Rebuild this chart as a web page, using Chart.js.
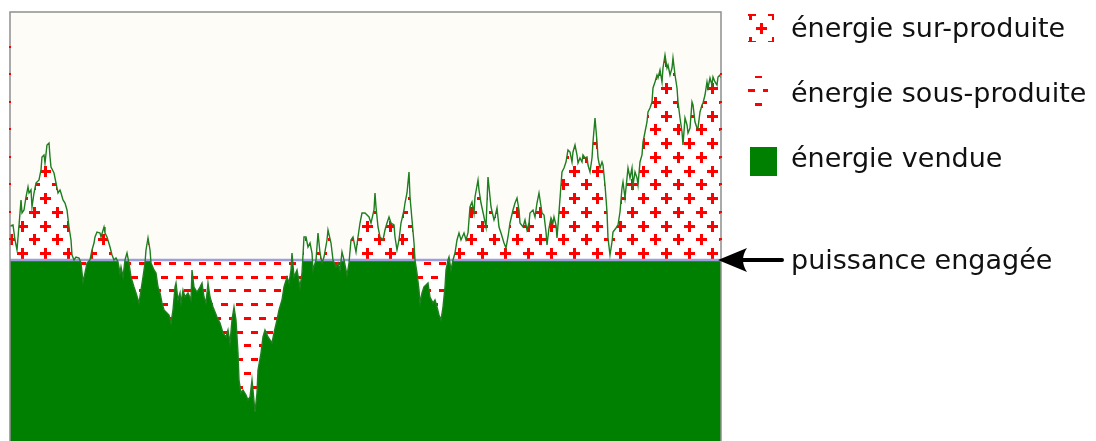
<!DOCTYPE html>
<html lang="fr">
<head>
<meta charset="utf-8">
<title>Énergie produite et puissance engagée</title>
<script src="https://cdn.jsdelivr.net/npm/chart.js@4.4.1/dist/chart.umd.min.js"></script>
<style>
  html, body { margin: 0; padding: 0; background: #ffffff; }
  #zone { position: absolute; left: 0; top: 0; width: 1096px; height: 441px; }
</style>
</head>
<body>
<div id="zone"><canvas id="graphe"></canvas></div>
<script>
// temps (minutes depuis le début de la fenêtre) et puissance produite
const minutes = [
  0,3,5,7,10,11,12,14,16,18,19,21,22,24,26,29,31,32,34,35,37,39,40,41,44,46,48,50,51,53,
  55,57,59,61,62,64,66,69,71,73,75,77,80,82,84,85,87,90,91,94,95,97,100,102,104,106,108,110,111,113,
  115,117,119,121,124,126,129,131,133,135,136,138,140,141,144,146,148,150,152,154,156,159,161,163,165,166,168,170,171,173,
  175,178,181,182,184,187,190,192,194,196,198,200,203,207,210,213,216,218,220,222,224,226,228,229,231,233,236,238,240,242,
  243,245,247,248,251,253,255,258,260,262,264,267,269,272,274,277,279,281,282,284,287,290,292,294,296,298,300,302,303,306,
  308,310,312,314,317,318,321,323,326,328,330,332,334,337,339,341,343,346,348,350,
  352,355,359,361,364,365,366,368,370,373,375,377,379,381,384,385,387,389,391,394,395,397,399,400,402,404,405,407,409,410,
  412,414,416,418,420,423,425,427,429,431,433,435,436,438,439,441,443,445,447,449,451,454,456,458,460,462,464,465,468,469,
  471,474,476,478,479,481,484,485,487,489,491,494,496,498,500,503,505,507,509,510,513,515,517,519,520,523,525,527,529,
  532,534,536,537,539,541,543,544,546,547,549,551,552,554,556,558,560,562,563,565,567,568,570,572,573,575,577,578,580,582,
  583,585,587,588,590,592,593,595,597,598,600,602,603,606,608,610,612,613,615,617,618,620,622,623,625,627,628,630,632,633,
  635,637,638,640,642,643,645,647,648,650,652,653,655,657,658,660,662,663,665,667,668,670,672,673,675,677,678,680,682,683,
  685,687,688,690,692,693,695,697,698,700,702,703,705,707,708,710,711
];
const production = [
  215,216,201,191,228,241,228,231,244,254,248,251,234,248,258,261,271,284,286,278,296,298,284,274,268,258,248,251,248,241,
  238,231,214,201,186,181,184,183,178,159,168,178,181,191,198,204,209,208,204,214,208,204,194,186,181,183,179,168,174,164,
  181,188,178,164,154,148,138,151,164,178,191,203,191,178,171,168,154,148,138,131,129,126,118,131,154,158,141,148,138,151,
  144,148,141,171,154,149,154,158,144,138,158,144,134,124,118,108,104,111,98,121,134,121,88,61,48,51,46,41,44,61,
  51,29,48,71,88,104,111,104,101,98,108,121,131,141,154,164,158,171,188,164,171,154,168,204,204,194,198,188,171,181,
  208,188,178,184,201,211,198,181,174,178,171,189,181,166,178,201,204,189,204,218,
  228,228,224,218,231,248,234,214,204,201,211,218,224,218,216,204,191,201,218,231,238,248,269,244,221,198,181,168,151,138,
  148,154,156,158,144,138,141,134,126,121,134,154,171,181,184,171,181,188,201,208,201,208,201,208,234,239,228,244,261,251,
  238,224,214,264,254,234,221,224,233,214,208,198,193,204,218,231,238,243,231,218,214,221,211,218,228,231,224,238,248,
  228,226,209,196,213,223,218,224,216,203,229,256,269,273,279,291,289,279,289,296,286,278,283,279,286,283,284,276,269,283,
  299,323,299,283,273,279,276,256,229,203,186,199,209,213,216,229,253,259,243,263,273,263,273,256,269,263,256,279,286,299,
  309,319,329,333,339,353,359,366,363,371,359,373,386,373,376,366,373,383,366,353,339,323,309,296,323,316,308,313,339,336,
  319,313,313,329,336,338,346,359,353,363,356,364,359,356,364,366,363
];
const puissanceEngagee = 181;
const echelleY = [0, 429];
const echelleX = [0, 711];
const legendes = ['énergie sur-produite', 'énergie sous-produite', 'énergie vendue', 'puissance engagée'];

const VERT = '#008000';
const ROUGE = '#ff0000';

// tuile de 4 rangées décalées en quinconce, translatée à (ox, oy)
function motif(w, dessin, ox, oy, fond = '#ffffff') {
  const c = document.createElement('canvas');
  c.width = w;
  c.height = 55;
  const g = c.getContext('2d');
  if (fond) {
    g.fillStyle = fond;
    g.fillRect(0, 0, c.width, c.height);
  }
  g.fillStyle = ROUGE;
  dessin(g);
  const p = g.createPattern(c, 'repeat');
  p.setTransform(new DOMMatrix([1, 0, 0, 1, ox, oy]));
  return p;
}

const rangees = [7, 21, 34, 48];
const croix = g => {
  rangees.forEach((y, i) => {
    const x = i % 2 ? 17 : 6;
    g.fillRect(x - 5, y - 1, 11, 3);
    g.fillRect(x - 1, y - 5, 3, 11);
  });
};
const bras = g => {
  rangees.forEach((y, i) => {
    const x = i % 2 ? 17 : 6;
    g.fillRect(x - 5, y - 1, 11, 2);
  });
};
const tirets = g => {
  rangees.forEach((y, i) => {
    const x = i % 2 ? 11 : 4;
    g.fillRect(x - 3, y - 1, 7, 3);
  });
};

const motifPlus = motif(23, croix, 5, 205);
const motifMoins = motif(15, tirets, 138, 256);
const motifBord = motif(23, bras, 5, 205, null);

const pts = minutes.map((t, i) => ({ x: t, y: production[i] }));
const ligneEngagee = minutes.map(t => ({ x: t, y: puissanceEngagee }));

// fond crème, cadre, légende et flèche
const habillage = {
  id: 'habillage',
  beforeDraw(chart) {
    const { ctx, chartArea: a } = chart;
    ctx.save();
    ctx.fillStyle = '#fdfcf7';
    ctx.fillRect(a.left, a.top, a.right - a.left, a.bottom - a.top);
    ctx.restore();
  },
  afterDraw(chart) {
    const { ctx, chartArea: a } = chart;
    const yE = chart.scales.y.getPixelForValue(puissanceEngagee);
    ctx.save();
    ctx.strokeStyle = '#8e8e8e';
    ctx.lineWidth = 1.5;
    ctx.beginPath();
    ctx.moveTo(a.left, a.bottom);
    ctx.lineTo(a.left, a.top);
    ctx.lineTo(a.right, a.top);
    ctx.lineTo(a.right, a.bottom);
    ctx.stroke();

    // le motif déborde un peu sur le cadre, au-dessus de la ligne engagée
    ctx.fillStyle = motifBord;
    ctx.fillRect(a.left - 1, a.top + 30, 2, yE - a.top - 34);
    ctx.fillRect(a.right - 1, a.top + 55, 2, yE - a.top - 59);

    // pictogrammes
    ctx.fillStyle = motif(23, croix, 744, -20);
    ctx.fillRect(748, 14, 26, 28);
    ctx.fillStyle = motif(15, tirets, 747, 83);
    ctx.fillRect(748, 76, 20, 32);
    ctx.fillStyle = VERT;
    ctx.fillRect(750, 147, 27, 29);

    ctx.fillStyle = '#111111';
    ctx.font = '27px "DejaVu Sans"';
    ctx.textBaseline = 'alphabetic';
    ctx.fillText(legendes[0], 791, 37);
    ctx.fillText(legendes[1], 791, 102);
    ctx.fillText(legendes[2], 791, 167);
    ctx.fillText(legendes[3], 791, yE + 9);

    // flèche vers la ligne de puissance engagée
    ctx.strokeStyle = '#000000';
    ctx.lineWidth = 4;
    ctx.lineCap = 'round';
    ctx.beginPath();
    ctx.moveTo(782, yE);
    ctx.lineTo(738, yE);
    ctx.stroke();
    ctx.fillStyle = '#000000';
    ctx.beginPath();
    ctx.moveTo(718, yE);
    ctx.lineTo(747, yE - 12);
    ctx.quadraticCurveTo(739, yE, 747, yE + 12);
    ctx.closePath();
    ctx.fill();
    ctx.restore();
  }
};

new Chart(document.getElementById('graphe'), {
  type: 'line',
  data: {
    datasets: [
      {
        label: 'production',
        data: pts,
        borderColor: '#1f7f1f',
        borderWidth: 1.4,
        pointRadius: 0,
        fill: false,
        order: 0
      },
      {
        label: legendes[0],
        data: pts,
        borderColor: 'transparent',
        borderWidth: 0,
        pointRadius: 0,
        fill: { target: 3, above: motifPlus, below: motifMoins },
        order: 2
      },
      {
        label: legendes[2],
        data: pts,
        borderColor: 'transparent',
        borderWidth: 0,
        pointRadius: 0,
        backgroundColor: VERT,
        fill: 'start',
        order: 3
      },
      {
        label: legendes[3],
        data: ligneEngagee,
        borderColor: '#9d9fdc',
        borderWidth: 2.5,
        pointRadius: 0,
        fill: false,
        order: 1
      }
    ]
  },
  options: {
    responsive: true,
    maintainAspectRatio: false,
    animation: false,
    events: [],
    layout: { padding: { left: 10, top: 12, right: 375, bottom: 0 } },
    elements: { line: { tension: 0 } },
    scales: {
      x: { type: 'linear', min: echelleX[0], max: echelleX[1], display: false },
      y: { min: echelleY[0], max: echelleY[1], display: false }
    },
    plugins: {
      legend: { display: false },
      tooltip: { enabled: false }
    }
  },
  plugins: [habillage]
});
</script>
</body>
</html>
